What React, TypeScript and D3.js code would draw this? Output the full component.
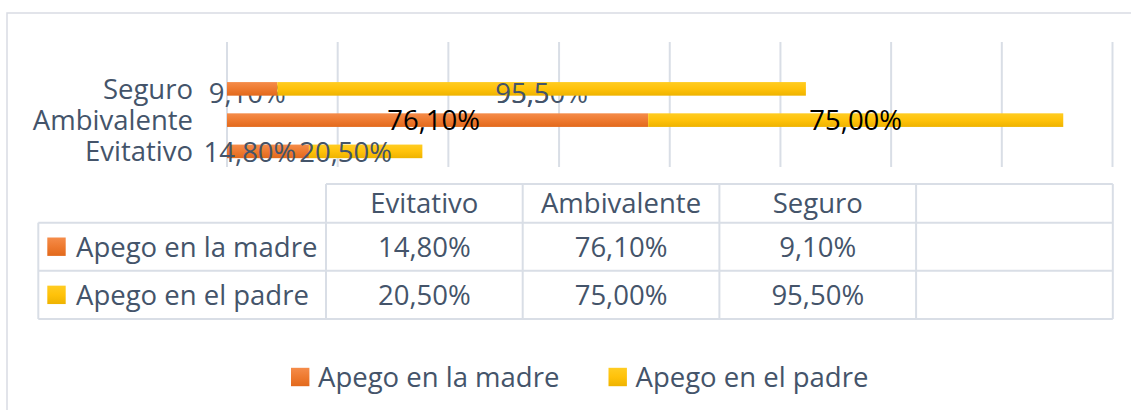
import React from "react";
import * as d3 from "d3";

// ---------- data ----------
const categories = ["Evitativo", "Ambivalente", "Seguro", ""];
const seriesNames = ["Apego en la madre", "Apego en el padre"];
const madre: (number | null)[] = [14.8, 76.1, 9.1, null];
const padre: (number | null)[] = [20.5, 75.0, 95.5, null];
const xTicks = [0, 20, 40, 60, 80, 100, 120, 140, 160];

// ---------- style ----------
const W = 1131;
const H = 410;
const FONT = "'Open Sans', Lato, sans-serif";
const FS = 27.5;
const BASE = 9.8;
const TEXT = "#44546A";
const GRID = "#D9DEE6";
const plot = { left: 227, right: 1112.5, top: 42, bottom: 167 };
const barFrac = 0.435;
const labelLook: Record<string, { fill: string; dy: number; dx: number[]; behind: boolean }> = {
  Seguro: { fill: TEXT, dy: 4, dx: [-5, 0], behind: true },
  Ambivalente: { fill: "#000000", dy: 0, dx: [-4, 0], behind: false },
  Evitativo: { fill: TEXT, dy: 1, dx: [-18, -20], behind: false },
};
const table = { left: 38.3, labelRight: 326, colW: 196.7, top: 184, rows: [222.7, 270.7, 319] };
const legendX = [291, 608.5];
const legendY = 377;

const locale = d3.formatLocale({ decimal: ",", thousands: ".", grouping: [3], currency: ["", "€"] });
const fmt = (v: number) => locale.format(".2f")(v) + "%";

export default function App() {
  const x = d3.scaleLinear().domain([0, 160]).range([plot.left, plot.right]);
  const y = d3
    .scaleBand<string>()
    .domain(categories.slice().reverse())
    .range([plot.top, plot.bottom])
    .padding(0);
  const bw = y.bandwidth();
  const bh = bw * barFrac;
  const series = [madre, padre];
  const fills = ["url(#gOrange)", "url(#gYellow)"];

  const stacked = categories.map((c, i) => {
    let acc = 0;
    return series.map((s, k) => {
      const v = s[i];
      const start = acc;
      if (v != null) acc += v;
      return { c, k, v, start, end: acc };
    });
  });

  const segs = stacked.flat().filter((d) => d.v != null && d.c !== "");

  const labelEl = (d: any, key: string, clip?: string) => {
    const look = labelLook[d.c];
    const cy = (y(d.c) as number) + bw / 2 + look.dy;
    const cx = (x(d.start) + x(d.end)) / 2 + look.dx[d.k];
    return (
      <text
        key={key}
        x={cx}
        y={cy + BASE}
        textAnchor="middle"
        fontFamily={FONT}
        fontSize={FS}
        fill={look.fill}
        clipPath={clip}
      >
        {fmt(d.v)}
      </text>
    );
  };

  const behind = segs.filter((d) => labelLook[d.c].behind);
  const front = segs.filter((d) => !labelLook[d.c].behind);
  // the padre label of "Seguro" shows partly over its bar
  const partial = segs.filter((d) => d.c === "Seguro" && d.k === 1);

  const colX = (j: number) => table.labelRight + j * table.colW;
  const rowTops = [table.top, ...table.rows];
  const tableRight = colX(categories.length);

  return (
    <svg
      width={W}
      height={H}
      style={{ position: "absolute", left: 0, top: 0, background: "#fff" }}
    >
      <defs>
        <linearGradient id="gOrange" x1="0" y1="0" x2="0" y2="1">
          <stop offset="0" stopColor="#F58C4A" />
          <stop offset="0.5" stopColor="#EE7A30" />
          <stop offset="1" stopColor="#E2691C" />
        </linearGradient>
        <linearGradient id="gYellow" x1="0" y1="0" x2="0" y2="1">
          <stop offset="0" stopColor="#FFCC22" />
          <stop offset="0.5" stopColor="#FFC20A" />
          <stop offset="1" stopColor="#EEB300" />
        </linearGradient>
        {partial.map((d) => {
          const cx = (x(d.start) + x(d.end)) / 2 + labelLook[d.c].dx[d.k];
          return (
            <clipPath id="clipPartial" key="cp">
              <rect x={cx - 80} y={0} width={87} height={H} />
            </clipPath>
          );
        })}
      </defs>
      <rect x={0} y={0} width={W} height={H} fill="#fff" />
      {/* chart area border */}
      <rect x={7} y={13} width={W + 20} height={H + 20} fill="none" stroke="#D9DCE3" strokeWidth={1.5} />

      {/* gridlines */}
      {xTicks.map((t) => (
        <line key={t} x1={x(t)} x2={x(t)} y1={plot.top} y2={plot.bottom} stroke={GRID} strokeWidth={2} />
      ))}

      {/* category axis labels */}
      {categories.map((c) => (
        <text
          key={"cat" + c}
          x={193}
          y={(y(c) as number) + bw / 2 + BASE}
          textAnchor="end"
          fontFamily={FONT}
          fontSize={FS}
          fill={TEXT}
        >
          {c}
        </text>
      ))}

      {/* labels behind bars */}
      {behind.map((d, i) => labelEl(d, "b" + i))}

      {/* bars */}
      {segs.map((d, i) => (
        <rect
          key={"bar" + i}
          x={x(d.start)}
          y={(y(d.c) as number) + (bw - bh) / 2}
          width={x(d.end) - x(d.start)}
          height={bh}
          fill={fills[d.k]}
        />
      ))}

      {/* labels in front */}
      {front.map((d, i) => labelEl(d, "f" + i))}
      {partial.map((d, i) => labelEl(d, "p" + i, "url(#clipPartial)"))}

      {/* data table */}
      <g stroke={GRID} strokeWidth={2}>
        <line x1={table.labelRight} x2={tableRight} y1={table.top} y2={table.top} />
        {table.rows.map((ry) => (
          <line key={ry} x1={table.left} x2={tableRight} y1={ry} y2={ry} />
        ))}
        <line x1={table.left} x2={table.left} y1={table.rows[0]} y2={table.rows[2]} />
        {categories.map((c, j) => (
          <line key={"v" + j} x1={colX(j)} x2={colX(j)} y1={table.top} y2={table.rows[2]} />
        ))}
        <line x1={tableRight} x2={tableRight} y1={table.top} y2={table.rows[2]} />
      </g>
      {categories.map((c, j) => (
        <text
          key={"h" + j}
          x={colX(j) + table.colW / 2}
          y={(rowTops[0] + rowTops[1]) / 2 + BASE}
          textAnchor="middle"
          fontFamily={FONT}
          fontSize={FS}
          fill={TEXT}
        >
          {c}
        </text>
      ))}
      {series.map((s, k) => {
        const cy = (rowTops[k + 1] + rowTops[k + 2]) / 2;
        return (
          <g key={"row" + k}>
            <rect x={47.3} y={cy - 9.2} width={18.4} height={18.4} fill={fills[k]} />
            <text x={76} y={cy + BASE} fontFamily={FONT} fontSize={FS} fill={TEXT}>
              {seriesNames[k]}
            </text>
            {s.map((v, j) =>
              v == null ? null : (
                <text
                  key={j}
                  x={colX(j) + table.colW / 2}
                  y={cy + BASE}
                  textAnchor="middle"
                  fontFamily={FONT}
                  fontSize={FS}
                  fill={TEXT}
                >
                  {fmt(v)}
                </text>
              )
            )}
          </g>
        );
      })}

      {/* legend */}
      {seriesNames.map((n, k) => (
        <g key={"leg" + k}>
          <rect x={legendX[k]} y={legendY - 9.2} width={18.4} height={18.4} fill={fills[k]} />
          <text x={legendX[k] + 27} y={legendY + BASE} fontFamily={FONT} fontSize={FS} fill={TEXT}>
            {n}
          </text>
        </g>
      ))}
    </svg>
  );
}
